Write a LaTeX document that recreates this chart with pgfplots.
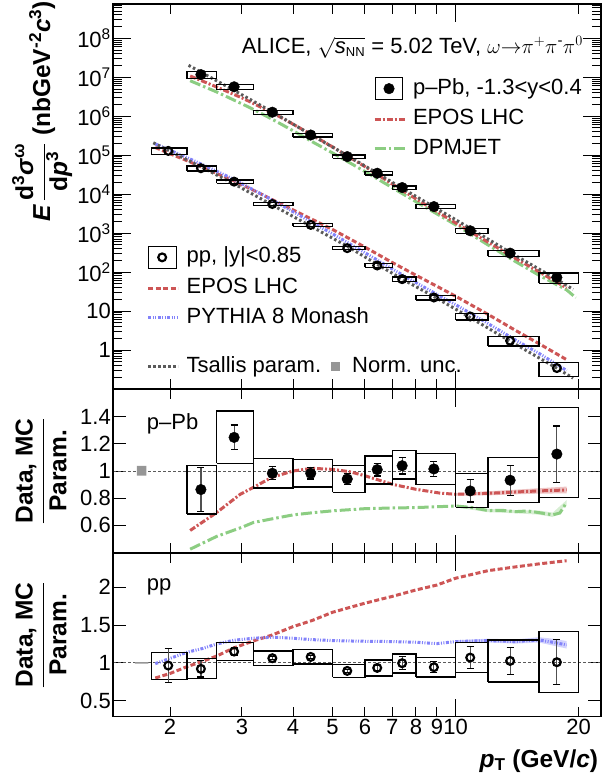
\documentclass[border=0pt]{standalone}
\usepackage{fontspec}
\setmainfont{Liberation Sans}
\usepackage{pgfplots}
\usepackage{pgfplotstable}
\pgfplotsset{compat=1.18}

\definecolor{eposred}{RGB}{205,85,85}
\definecolor{dpmgreen}{RGB}{140,205,130}
\definecolor{pythblue}{RGB}{130,130,250}
\definecolor{tsgray}{RGB}{90,90,90}
\definecolor{normgray}{RGB}{150,150,150}
\definecolor{errgray}{RGB}{80,80,80}

% ---------------- data ----------------
\pgfplotstableread{
x y
2.38 1.17e7
2.87 5.7e6
3.56 1.27e6
4.42 3.3e5
5.43 9.2e4
6.43 3.45e4
7.4 1.48e4
8.85 4.8e3
10.86 1.15e3
13.6 307
17.7 72.8
}\pPbSpec

\pgfplotstableread{
x y
1.98 1.29e5
2.38 4.64e4
2.87 2.1e4
3.56 5.6e3
4.42 1.63e3
5.43 412
6.43 148
7.4 66
8.85 22.3
10.86 7.27
13.6 1.73
17.7 0.345
}\ppSpec

\pgfplotstableread{
x y stat
2.38 0.863 0.163
2.87 1.248 0.091
3.56 0.983 0.048
4.42 0.983 0.042
5.43 0.941 0.039
6.43 1.010 0.047
7.4 1.039 0.061
8.85 1.015 0.057
10.86 0.853 0.082
13.6 0.932 0.11
17.7 1.125 0.207
}\pPbRatio

\pgfplotstableread{
x y stat
1.98 0.965 0.222
2.38 0.921 0.108
2.87 1.15 0.057
3.56 1.062 0.02
4.42 1.079 0.02
5.43 0.894 0.02
6.43 0.934 0.03
7.4 0.996 0.088
8.85 0.943 0.075
10.86 1.07 0.145
13.6 1.026 0.18
17.7 1.009 0.30
}\ppRatio

% ---------------- styles ----------------
\tikzset{
  sysbox/.style={draw=black, line width=1.3pt, fill=none, mark=none, solid},
  eposPPbline/.style={eposred, line width=3pt, mark=none, dash pattern=on 6pt off 2pt on 2pt off 2pt},
  dpmline/.style={dpmgreen, line width=3pt, mark=none, dash pattern=on 11pt off 3pt on 2.5pt off 3pt},
  eposPPline/.style={eposred, line width=3pt, mark=none, dash pattern=on 5pt off 2.5pt},
  pythline/.style={pythblue, line width=3pt, mark=none, dash pattern=on 3pt off 1.5pt on 1pt off 1.5pt on 1pt off 1.5pt},
  tsline/.style={tsgray, line width=3pt, mark=none, dash pattern=on 2.5pt off 2.5pt},
  refline/.style={tsgray, line width=0.8pt, mark=none, dash pattern=on 2.5pt off 2.5pt},
}
% systematic-uncertainty box: x_low, x_high, y_low, y_high
\newcommand{\sysbox}[4]{\addplot[sysbox] coordinates {(#1,#3) (#2,#3) (#2,#4) (#1,#4) (#1,#3)};}

\pgfplotsset{
  mypanel/.style={
    scale only axis, width=488pt, xmin=1.45, xmax=22.7,
    tick align=inside, xtick pos=both, ytick pos=both,
    axis line style={line width=1.2pt},
    tick style={black, line width=1pt},
    xtick=\empty,
    tick label style={inner sep=2pt},
  },
  myratio/.style={
    mypanel, major tick length=13pt,
    ylabel={\fontsize{24.5}{28}\selectfont\bfseries$\displaystyle\frac{\hbox{\bfseries Data, MC}}{\hbox{\bfseries Param.}}$},
    ylabel style={at={(axis description cs:-0.1475,0.5)}, anchor=center, inner sep=0pt},
  },
  myxticks/.style={
    scale only axis, width=488pt, xmin=1.45, xmax=22.7, ymin=0, ymax=1,
    ytick=\empty, tick align=inside, xtick pos=both,
    axis line style={line width=1.2pt},
    tick style={black, line width=1pt},
    tick label style={inner sep=2pt},
    major tick length=10pt, xtick={2,3,4,5,6,7,8,9,20}, xticklabels={},
  },
  myxten/.style={
    myxticks, major tick length=18pt, xtick={10}, xticklabels={},
  },
  mylegend/.style={
    scale only axis, width=488pt, height=385pt, at={(113pt,-4pt)}, anchor=north west,
    hide axis, xmin=0, xmax=1, ymin=0, ymax=1,
    legend cell align=left,
    legend image code/.code={\draw[##1] (0pt,0pt) -- (30pt,0pt);},
    legend style={draw=none, fill=none, inner sep=0pt, outer sep=0pt, row sep=8.5pt,
      nodes={inner sep=0pt, text height=16pt, text depth=5pt},
      /tikz/every odd column/.append style={column sep=7pt}},
  },
}

\begin{document}
\fontsize{22}{26}\selectfont
\begin{tikzpicture}
\useasboundingbox (0pt,0pt) rectangle (603pt,-778pt);

% ================= top panel =================
\begin{loglogaxis}[mypanel, at={(113pt,-4pt)}, anchor=north west, height=385pt,
  ymin=0.1, ymax=7.6e8,
  major tick length=18pt, minor tick length=9pt,
  ytick={1,10,100,1000,1e4,1e5,1e6,1e7,1e8},
  yticklabels={1,10,10\textsuperscript{2},10\textsuperscript{3},10\textsuperscript{4},10\textsuperscript{5},10\textsuperscript{6},10\textsuperscript{7},10\textsuperscript{8}},
  minor ytick={0.2,0.3,0.4,0.5,0.6,0.7,0.8,0.9,2,3,4,5,6,7,8,9,20,30,40,50,60,70,80,90,200,300,400,500,600,700,800,900,2e3,3e3,4e3,5e3,6e3,7e3,8e3,9e3,2e4,3e4,4e4,5e4,6e4,7e4,8e4,9e4,2e5,3e5,4e5,5e5,6e5,7e5,8e5,9e5,2e6,3e6,4e6,5e6,6e6,7e6,8e6,9e6,2e7,3e7,4e7,5e7,6e7,7e7,8e7,9e7,2e8,3e8,4e8,5e8,6e8,7e8},
  ylabel={\fontsize{24.5}{28}\selectfont\bfseries\itshape E\upshape\,$\displaystyle\frac{\hbox{\bfseries d\textsuperscript{3}\itshape σ\textsuperscript{\upshape ω}}}{\hbox{\bfseries d\itshape p\textsuperscript{\upshape 3}}}$ (nbGeV\textsuperscript{-2}\itshape c\textsuperscript{\upshape 3}\upshape)},
  ylabel style={at={(axis description cs:-0.129,1.008)}, anchor=base east, inner sep=0pt},
]
\addplot[dpmline] coordinates {(2.24,8.15e6) (2.6,4.21e6) (3.0,2.08e6) (3.2,1.50e6) (3.6,7.83e5) (4.0,4.25e5) (4.5,2.10e5) (5.0,1.14e5) (6.0,3.82e4) (7.0,1.47e4) (8.0,6.4e3) (10,1.64e3) (12,500) (14,188) (16,83.2) (18.7,35) (19.7,22)};
\addplot[eposPPbline] coordinates {(2.24,1.08e7) (2.6,5.65e6) (3.0,2.96e6) (3.2,2.13e6) (3.6,1.156e6) (4.0,6.28e5) (4.5,3.11e5) (5.0,1.63e5) (6.0,5.1e4) (7.0,1.82e4) (8.0,7.59e3) (10,1.83e3) (12,590) (14,227) (16,102) (18.7,39.2)};
\addplot[eposPPline] coordinates {(1.84,1.58e5) (2.0,1.09e5) (2.2,7.26e4) (2.4,4.92e4) (2.6,3.40e4) (2.87,2.19e4) (3.2,1.26e4) (3.56,7.22e3) (4.0,3.97e3) (4.45,2.27e3) (5.0,1.24e3) (6.0,438) (7.0,176) (8.0,83) (9.0,43.3) (10,24.1) (12,8.25) (14,3.22) (16,1.46) (18.7,0.567)};
\addplot[pythline] coordinates {(1.84,1.95e5) (2.0,1.34e5) (2.2,8.71e4) (2.4,5.73e4) (2.6,3.90e4) (2.87,2.38e4) (3.2,1.29e4) (3.56,7.06e3) (4.0,3.56e3) (4.45,1.90e3) (5.0,960) (6.0,315) (7.0,120) (8.0,53.8) (9.0,26.8) (10,14.6) (12,4.81) (14,1.82) (16,0.823) (18.7,0.298)};
\addplot[tsline] coordinates {(2.22,2.03e7) (2.38,1.36e7) (2.87,4.6e6) (3.56,1.29e6) (4.42,3.4e5) (5.43,9.8e4) (6.43,3.45e4) (7.4,1.42e4) (8.85,4.7e3) (10.86,1.33e3) (13.6,320) (17.7,65) (19.4,36)};
\addplot[tsline] coordinates {(1.82,2.09e5) (1.98,1.34e5) (2.38,5.04e4) (2.87,1.83e4) (3.56,5.27e3) (4.42,1.51e3) (5.43,461) (6.43,158) (7.4,66.4) (8.85,23.6) (10.86,6.81) (13.6,1.69) (17.7,0.342) (19.4,0.19)};
\sysbox{2.2}{2.6}{9.266e6}{1.4134e7}
\sysbox{2.6}{3.2}{4.8165e6}{6.5835e6}
\sysbox{3.2}{4}{1.129e6}{1.411e6}
\sysbox{4}{5}{2.957e5}{3.643e5}
\sysbox{5}{6}{8.243e4}{1.0157e5}
\sysbox{6}{7}{3.098e4}{3.802e4}
\sysbox{7}{8}{1.330e4}{1.630e4}
\sysbox{8}{10}{4.253e3}{5.347e3}
\sysbox{10}{12}{979.8}{1320.2}
\sysbox{12}{16}{252.4}{361.6}
\sysbox{16}{20}{51.32}{94.28}
\sysbox{1.8}{2.2}{1.054e5}{1.526e5}
\sysbox{2.2}{2.6}{3.967e4}{5.313e4}
\sysbox{2.6}{3.2}{1.884e4}{2.316e4}
\sysbox{3.2}{4}{5.090e3}{6.110e3}
\sysbox{4}{5}{1.487e3}{1.773e3}
\sysbox{5}{6}{373.7}{450.3}
\sysbox{6}{7}{131.3}{164.7}
\sysbox{7}{8}{57.68}{74.32}
\sysbox{8}{10}{19.29}{25.31}
\sysbox{10}{12}{5.94}{8.60}
\sysbox{12}{16}{1.263}{2.197}
\sysbox{16}{20}{0.207}{0.483}
\addplot[only marks, mark=*, mark size=5.3pt, black] table[x=x, y=y] {\pPbSpec};
\addplot[only marks, mark=o, mark size=3.9pt, black, mark options={line width=2.2pt}] table[x=x, y=y] {\ppSpec};
\node[anchor=base west, inner sep=0pt] at (axis description cs:0.2637,0.872)
  {ALICE, $\sqrt{\hbox{\itshape s}_{\hbox{\fontsize{13}{15}\selectfont NN}}}$ = 5.02 TeV, $\omega\mathord{\rightarrow}\pi^{+}\pi^{\hbox{\fontsize{15}{17}\selectfont -}}\pi^{0}$};
\end{loglogaxis}
\begin{semilogxaxis}[myxticks, at={(113pt,-4pt)}, anchor=north west, height=385pt]\end{semilogxaxis}
\begin{semilogxaxis}[myxten, at={(113pt,-4pt)}, anchor=north west, height=385pt]\end{semilogxaxis}

% legends of the top panel
\begin{axis}[mylegend, legend style={at={(axis description cs:0.5328,0.8104)}, anchor=north west}]
\addlegendimage{legend image code/.code={\draw[black, line width=1.3pt] (1pt,-11pt) rectangle (28pt,11pt); \fill[black] (14.5pt,0pt) circle (5.3pt);}}
\addlegendentry{p--Pb, -1.3<y<0.4}
\addlegendimage{eposPPbline}
\addlegendentry{EPOS LHC}
\addlegendimage{dpmline}
\addlegendentry{DPMJET}
\end{axis}

\begin{axis}[mylegend, legend style={at={(axis description cs:0.069,0.3722)}, anchor=north west}]
\addlegendimage{legend image code/.code={\draw[black, line width=1.3pt] (0pt,-11pt) rectangle (28pt,11pt); \draw[black, line width=2.2pt] (14pt,0pt) circle (3.9pt);}}
\addlegendentry{pp, |y|<0.85}
\addlegendimage{eposPPline}
\addlegendentry{EPOS LHC}
\addlegendimage{pythline}
\addlegendentry{PYTHIA 8 Monash}
\end{axis}

\begin{axis}[mylegend, legend columns=2, legend style={at={(axis description cs:0.069,0.085)}, anchor=north west, /tikz/every even column/.append style={column sep=10pt}}]
\addlegendimage{tsline}
\addlegendentry{Tsallis param.}
\addlegendimage{legend image code/.code={\path[draw=none, fill=none] (0pt,0pt) -- (14pt,0pt); \fill[normgray, draw=none] (0pt,-4.5pt) rectangle (9pt,4.5pt);}}
\addlegendentry{Norm. unc.}
\end{axis}

% ================= middle panel (p-Pb ratio) =================
\begin{semilogxaxis}[myratio, at={(113pt,-389.3pt)}, anchor=north west, height=163.4pt,
  ymin=0.397, ymax=1.603,
  ytick={0.6,0.8,1,1.2,1.4}, yticklabels={0.6,0.8,1,1.2,1.4},
]
\addplot[refline] coordinates {(1.45,1) (22.7,1)};
\addplot[fill=normgray, draw=none, mark=none] coordinates {(1.66,0.965) (1.75,0.965) (1.75,1.037) (1.66,1.037) (1.66,0.965)};
\addplot[fill=eposred, fill opacity=0.35, draw=none, mark=none] coordinates {(10,0.838) (12,0.85) (14,0.862) (16,0.873) (18.7,0.885) (18.7,0.835) (16,0.833) (14,0.828) (12,0.82) (10,0.818)};
\addplot[fill=dpmgreen, fill opacity=0.35, draw=none, mark=none] coordinates {(10,0.752) (12,0.72) (14,0.712) (16,0.708) (17.3,0.693) (18.7,0.785) (18.7,0.75) (17.3,0.66) (16,0.678) (14,0.688) (12,0.696) (10,0.732)};
\addplot[dpmline] coordinates {(2.24,0.423) (2.6,0.517) (3.0,0.585) (3.2,0.62) (3.6,0.65) (4.0,0.676) (4.5,0.693) (5.0,0.706) (6.0,0.722) (7,0.727) (8,0.73) (9.15,0.737) (10,0.742) (11,0.73) (12,0.708) (13,0.71) (14,0.70) (15,0.705) (16,0.693) (17.3,0.676) (18,0.69) (18.7,0.767)};
\addplot[eposPPbline] coordinates {(2.24,0.561) (2.6,0.693) (2.97,0.828) (3.2,0.879) (3.55,0.953) (4.0,1.0) (4.45,1.02) (5.0,1.012) (5.5,0.995) (6.0,0.965) (7,0.902) (8,0.865) (9.15,0.837) (10,0.828) (12,0.835) (14,0.845) (16,0.853) (18.7,0.86)};
\sysbox{2.2}{2.6}{0.683}{1.042}
\sysbox{2.6}{3.2}{1.056}{1.442}
\sysbox{3.2}{4}{0.875}{1.093}
\sysbox{4}{5}{0.882}{1.086}
\sysbox{5}{6}{0.843}{1.039}
\sysbox{6}{7}{0.904}{1.110}
\sysbox{7}{8}{0.942}{1.150}
\sysbox{8}{10}{0.899}{1.130}
\sysbox{10}{12}{0.732}{0.984}
\sysbox{12}{16}{0.767}{1.098}
\sysbox{16}{20}{0.804}{1.467}
\addplot[only marks, mark=*, mark size=5.3pt, black,
  error bars/.cd, y dir=both, y explicit,
  error bar style={draw=errgray, line width=1.2pt, solid},
  error mark options={rotate=90, mark size=3.5pt, draw=black, line width=1.2pt}]
  table[x=x, y=y, y error=stat] {\pPbRatio};
\node[anchor=base west, inner sep=0pt] at (axis description cs:0.069,0.751) {p--Pb};
\end{semilogxaxis}
\begin{semilogxaxis}[myxticks, at={(113pt,-389.3pt)}, anchor=north west, height=163.4pt]\end{semilogxaxis}
\begin{semilogxaxis}[myxten, at={(113pt,-389.3pt)}, anchor=north west, height=163.4pt]\end{semilogxaxis}

% ================= bottom panel (pp ratio) =================
\begin{semilogxaxis}[myratio, at={(113pt,-553.3pt)}, anchor=north west, height=163.4pt,
  ymin=0.288, ymax=2.45,
  ytick={0.5,1,1.5,2}, yticklabels={0.5,1,1.5,2},
  xlabel={\fontsize{24.5}{28}\selectfont\bfseries\itshape p\textsubscript{\upshape T}\upshape\ (GeV/\itshape c\upshape)},
  xlabel style={at={(axis description cs:0.9945,-0.309)}, anchor=base east, inner sep=0pt},
]
\addplot[refline] coordinates {(1.45,1) (22.7,1)};
\addplot[fill=normgray, draw=none, mark=none] coordinates {(1.64,0.99) (1.77,0.99) (1.77,1.01) (1.64,1.01) (1.64,0.99)};
\addplot[fill=pythblue, fill opacity=0.35, draw=none, mark=none] coordinates {(10,1.30) (12,1.32) (14,1.31) (16,1.34) (17.3,1.32) (18.7,1.29) (18.7,1.19) (17.3,1.23) (16,1.27) (14,1.255) (12,1.27) (10,1.265)};
\addplot[eposPPline] coordinates {(1.84,0.80) (2.0,0.86) (2.2,0.95) (2.4,1.02) (2.6,1.09) (2.87,1.2) (3.2,1.29) (3.56,1.37) (4,1.48) (4.45,1.56) (5,1.67) (6,1.79) (7,1.88) (8,1.965) (9,2.03) (10,2.12) (12,2.22) (14,2.27) (16,2.31) (18.7,2.352)};
\addplot[pythline] coordinates {(1.84,0.99) (2.0,1.06) (2.2,1.14) (2.4,1.19) (2.6,1.25) (2.87,1.30) (3.2,1.326) (3.56,1.34) (4,1.326) (4.45,1.308) (5,1.295) (6,1.286) (7,1.282) (8,1.273) (9,1.255) (10,1.282) (12,1.295) (14,1.282) (16,1.304) (17.3,1.273) (18.7,1.238)};
\sysbox{1.8}{2.2}{0.784}{1.137}
\sysbox{2.2}{2.6}{0.789}{1.057}
\sysbox{2.6}{3.2}{1.031}{1.269}
\sysbox{3.2}{4}{0.965}{1.159}
\sysbox{4}{5}{0.987}{1.176}
\sysbox{5}{6}{0.811}{0.978}
\sysbox{6}{7}{0.828}{1.040}
\sysbox{7}{8}{0.868}{1.119}
\sysbox{8}{10}{0.815}{1.070}
\sysbox{10}{12}{0.877}{1.269}
\sysbox{12}{16}{0.749}{1.304}
\sysbox{16}{20}{0.604}{1.414}
\addplot[only marks, mark=o, mark size=3.9pt, black, mark options={line width=2.2pt},
  error bars/.cd, y dir=both, y explicit,
  error bar style={draw=errgray, line width=1.2pt, solid},
  error mark options={rotate=90, mark size=3.5pt, draw=black, line width=1.2pt}]
  table[x=x, y=y, y error=stat] {\ppRatio};
\node[anchor=base west, inner sep=0pt] at (axis description cs:0.069,0.775) {pp};
\end{semilogxaxis}
\begin{semilogxaxis}[myxticks, at={(113pt,-553.3pt)}, anchor=north west, height=163.4pt,
  xticklabels={2,3,4,5,6,7,8,9,20}]\end{semilogxaxis}
\begin{semilogxaxis}[myxten, at={(113pt,-553.3pt)}, anchor=north west, height=163.4pt,
  xticklabels={10}]\end{semilogxaxis}
\end{tikzpicture}
\end{document}
